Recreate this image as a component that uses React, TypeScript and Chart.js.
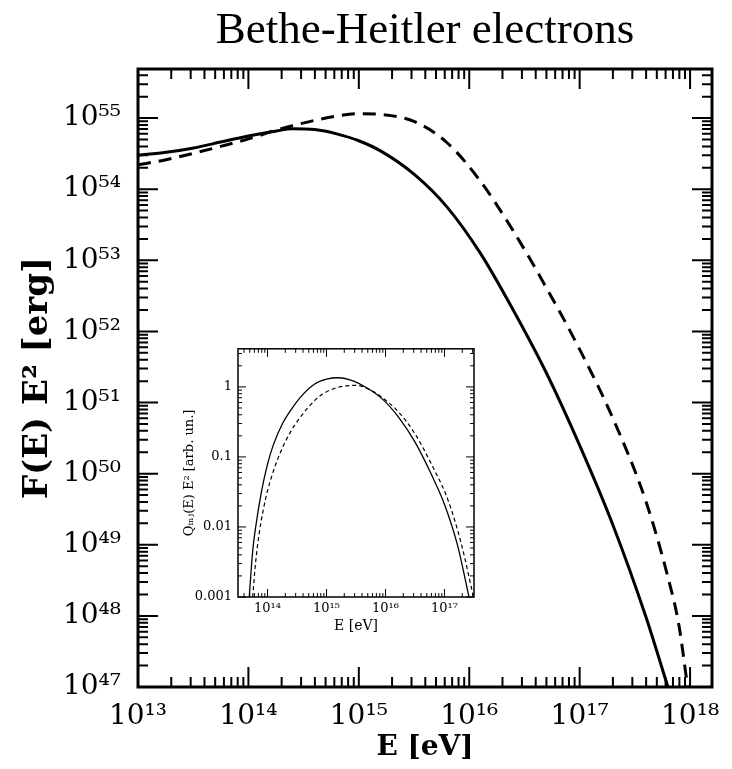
import { useEffect, useRef } from 'react';
import { Chart, registerables } from 'chart.js';

Chart.register(...registerables);

// ---------- main panel data ----------
const mainSolidEnergy = [1e13, 1.8e13, 3.2e13, 5.6e13, 1e14, 1.8e14, 2.5e14, 4e14, 6.3e14, 1e15, 1.6e15, 3.2e15, 6.3e15, 1.26e16, 2.5e16, 5e16, 1e17, 2e17, 4e17, 6.3e17];
const mainSolidValues = [3.0e54, 3.3e54, 3.8e54, 4.6e54, 5.6e54, 6.6e54, 7.1e54, 6.9e54, 6.0e54, 4.8e54, 3.4e54, 1.6e54, 5.6e53, 1.26e53, 2.0e52, 2.6e51, 2.5e50, 1.9e49, 9.5e47, 1.0e47];
const mainDashedEnergy = [1e13, 1.8e13, 3.2e13, 5.6e13, 1e14, 1.8e14, 2.5e14, 4e14, 6.3e14, 1e15, 1.6e15, 3.2e15, 6.3e15, 1.26e16, 2.5e16, 5e16, 1e17, 2e17, 4e17, 6.3e17, 7.9e17, 9.5e17];
const mainDashedValues = [2.2e54, 2.6e54, 3.2e54, 4.0e54, 5.1e54, 6.8e54, 7.8e54, 9.3e54, 1.07e55, 1.15e55, 1.12e55, 8.9e54, 4.5e54, 1.3e54, 2.6e53, 4.1e52, 5.6e51, 6.0e50, 4.0e49, 3.5e48, 7.6e47, 1.0e47];
const mainXTicks = [1e13, 1e14, 1e15, 1e16, 1e17, 1e18];
const mainXTickLabels = ['10¹³', '10¹⁴', '10¹⁵', '10¹⁶', '10¹⁷', '10¹⁸'];
const mainYTicks = [1e47, 1e48, 1e49, 1e50, 1e51, 1e52, 1e53, 1e54, 1e55];
const mainYTickLabels = ['10⁴⁷', '10⁴⁸', '10⁴⁹', '10⁵⁰', '10⁵¹', '10⁵²', '10⁵³', '10⁵⁴', '10⁵⁵'];

// ---------- inset data ----------
const insetSolidEnergy = [4.9e13, 5.6e13, 6.3e13, 7.9e13, 1e14, 1.26e14, 1.78e14, 2.5e14, 3.6e14, 6.3e14, 1e15, 1.6e15, 2.5e15, 4.7e15, 8.7e15, 1.66e16, 3.2e16, 6e16, 1e17, 1.66e17, 2.6e17];
const insetSolidValues = [0.001, 0.0045, 0.01, 0.032, 0.079, 0.15, 0.295, 0.47, 0.71, 1.1, 1.29, 1.35, 1.26, 0.98, 0.68, 0.37, 0.16, 0.056, 0.021, 0.0055, 0.001];
const insetDashedEnergy = [5.6e13, 6.3e13, 7.2e13, 8.3e13, 1e14, 1.26e14, 1.66e14, 2.5e14, 3.6e14, 6.8e14, 1e15, 1.66e15, 3.2e15, 6e15, 8.7e15, 1.66e16, 3.2e16, 6e16, 1.15e17, 1.9e17, 3.1e17];
const insetDashedValues = [0.001, 0.0032, 0.0079, 0.016, 0.033, 0.063, 0.117, 0.234, 0.37, 0.68, 0.85, 1.0, 1.05, 0.87, 0.71, 0.44, 0.21, 0.079, 0.024, 0.006, 0.001];
const insetXTicks = [1e14, 1e15, 1e16, 1e17];
const insetXTickLabels = ['10¹⁴', '10¹⁵', '10¹⁶', '10¹⁷'];
const insetYTicks = [0.001, 0.01, 0.1, 1];
const insetYTickLabels = ['0.001', '0.01', '0.1', '1'];

const toPoints = (xs: number[], ys: number[]) => xs.map((x, i) => ({ x, y: ys[i] }));

function frameTicksPlugin(major: number, minor: number, tickWidth: number, frameWidth: number) {
  return {
    id: 'frameTicks',
    afterDraw(chart: any) {
      const { ctx, chartArea: a } = chart;
      const xs = chart.scales.x;
      const ys = chart.scales.y;
      ctx.save();
      ctx.strokeStyle = '#000';
      ctx.lineWidth = tickWidth;
      const logTicks = (scale: any, cb: (p: number, len: number) => void) => {
        const lo = Math.floor(Math.log10(scale.min)) - 1;
        const hi = Math.ceil(Math.log10(scale.max)) + 1;
        for (let d = lo; d <= hi; d++) {
          for (let m = 1; m <= 9; m++) {
            const v = m * Math.pow(10, d);
            if (v < scale.min * 0.9999 || v > scale.max * 1.0001) continue;
            cb(scale.getPixelForValue(v), m === 1 ? major : minor);
          }
        }
      };
      ctx.beginPath();
      logTicks(xs, (p, len) => {
        ctx.moveTo(p, a.bottom); ctx.lineTo(p, a.bottom - len);
        ctx.moveTo(p, a.top); ctx.lineTo(p, a.top + len);
      });
      logTicks(ys, (p, len) => {
        ctx.moveTo(a.left, p); ctx.lineTo(a.left + len, p);
        ctx.moveTo(a.right, p); ctx.lineTo(a.right - len, p);
      });
      ctx.stroke();
      ctx.lineWidth = frameWidth;
      ctx.strokeRect(a.left, a.top, a.right - a.left, a.bottom - a.top);
      ctx.restore();
    },
  };
}

export default function App() {
  const mainRef = useRef<HTMLCanvasElement>(null);
  const insetRef = useRef<HTMLCanvasElement>(null);

  useEffect(() => {
    const serif = 'DejaVu Serif';
    const noGrid = { display: false, drawTicks: false };
    const main = new Chart(mainRef.current as HTMLCanvasElement, {
      type: 'line',
      data: {
        datasets: [
          {
            data: toPoints(mainSolidEnergy, mainSolidValues),
            borderColor: '#000', borderWidth: 3, pointRadius: 0,
            cubicInterpolationMode: 'monotone', fill: false,
          },
          {
            data: toPoints(mainDashedEnergy, mainDashedValues),
            borderColor: '#000', borderWidth: 3, pointRadius: 0, borderDash: [13, 8],
            cubicInterpolationMode: 'monotone', fill: false,
          },
        ],
      },
      options: {
        responsive: false,
        animation: false,
        events: [],
        layout: { padding: { left: 0, right: 20, top: 0, bottom: 0 } },
        plugins: {
          legend: { display: false },
          tooltip: { enabled: false },
          title: {
            display: true,
            text: 'Bethe-Heitler electrons',
            color: '#000',
            fullSize: false,
            font: { family: 'Liberation Serif', size: 45, weight: 'normal' },
            padding: { top: 4, bottom: 11 },
          },
        },
        scales: {
          x: {
            type: 'logarithmic',
            min: 1e13,
            max: 1.58e18,
            grid: noGrid,
            border: { display: false },
            afterBuildTicks: (s: any) => { s.ticks = mainXTicks.map((v) => ({ value: v })); },
            afterFit: (s: any) => { s.height = 82; },
            ticks: {
              autoSkip: false, maxRotation: 0, color: '#000', padding: 12,
              font: { family: serif, size: 28, lineHeight: 1.3 },
              callback: (_v: any, i: number) => mainXTickLabels[i],
            },
            title: {
              display: true, text: 'E [eV]', color: '#000',
              font: { family: serif, size: 28, weight: 'bold' },
              padding: { top: 0, bottom: 4 },
            },
          },
          y: {
            type: 'logarithmic',
            min: 1e47,
            max: 4.9e55,
            grid: noGrid,
            border: { display: false },
            afterBuildTicks: (s: any) => { s.ticks = mainYTicks.map((v) => ({ value: v })); },
            afterFit: (s: any) => { s.width = 138; },
            ticks: {
              autoSkip: false, color: '#000', padding: 17,
              font: { family: serif, size: 28 },
              callback: (_v: any, i: number) => mainYTickLabels[i],
            },
            title: {
              display: true, text: 'F(E) E² [erg]', color: '#000',
              font: { family: serif, size: 34, weight: 'bold' },
              padding: { top: 18, bottom: 0 },
            },
          },
        },
      },
      plugins: [frameTicksPlugin(20, 10, 2, 3)],
    } as any);

    const inset = new Chart(insetRef.current as HTMLCanvasElement, {
      type: 'line',
      data: {
        datasets: [
          {
            data: toPoints(insetSolidEnergy, insetSolidValues),
            borderColor: '#000', borderWidth: 1.3, pointRadius: 0,
            cubicInterpolationMode: 'monotone', fill: false,
          },
          {
            data: toPoints(insetDashedEnergy, insetDashedValues),
            borderColor: '#000', borderWidth: 1.2, pointRadius: 0, borderDash: [4, 3],
            cubicInterpolationMode: 'monotone', fill: false,
          },
        ],
      },
      options: {
        responsive: false,
        animation: false,
        events: [],
        layout: { padding: { left: 0, right: 6, top: 8, bottom: 0 } },
        plugins: { legend: { display: false }, tooltip: { enabled: false }, title: { display: false } },
        scales: {
          x: {
            type: 'logarithmic',
            min: 3.16e13,
            max: 3.16e17,
            grid: noGrid,
            border: { display: false },
            afterBuildTicks: (s: any) => { s.ticks = insetXTicks.map((v) => ({ value: v })); },
            afterFit: (s: any) => { s.height = 38; },
            ticks: {
              autoSkip: false, maxRotation: 0, color: '#000', padding: 4,
              font: { family: serif, size: 13 },
              callback: (_v: any, i: number) => insetXTickLabels[i],
            },
            title: {
              display: true, text: 'E [eV]', color: '#000',
              font: { family: serif, size: 14 },
              padding: { top: 0, bottom: 0 },
            },
          },
          y: {
            type: 'logarithmic',
            min: 0.001,
            max: 3.5,
            grid: noGrid,
            border: { display: false },
            afterBuildTicks: (s: any) => { s.ticks = insetYTicks.map((v) => ({ value: v })); },
            afterFit: (s: any) => { s.width = 60; },
            ticks: {
              autoSkip: false, color: '#000', padding: 6,
              font: { family: serif, size: 13 },
              callback: (_v: any, i: number) => insetYTickLabels[i],
            },
            title: {
              display: true, text: 'Qᵢₙⱼ(E) E² [arb. un.]', color: '#000',
              font: { family: serif, size: 13 },
              padding: { top: 4, bottom: 0 },
            },
          },
        },
      },
      plugins: [frameTicksPlugin(8, 4, 1, 1.5)],
    } as any);

    return () => {
      main.destroy();
      inset.destroy();
    };
  }, []);

  return (
    <div style={{ position: 'absolute', left: 0, top: 0, width: 732, height: 769, background: '#fff' }}>
      <canvas ref={mainRef} width={732} height={769} style={{ position: 'absolute', left: 0, top: 0, display: 'block' }} />
      <canvas ref={insetRef} width={302} height={300} style={{ position: 'absolute', left: 178, top: 335, display: 'block' }} />
    </div>
  );
}
